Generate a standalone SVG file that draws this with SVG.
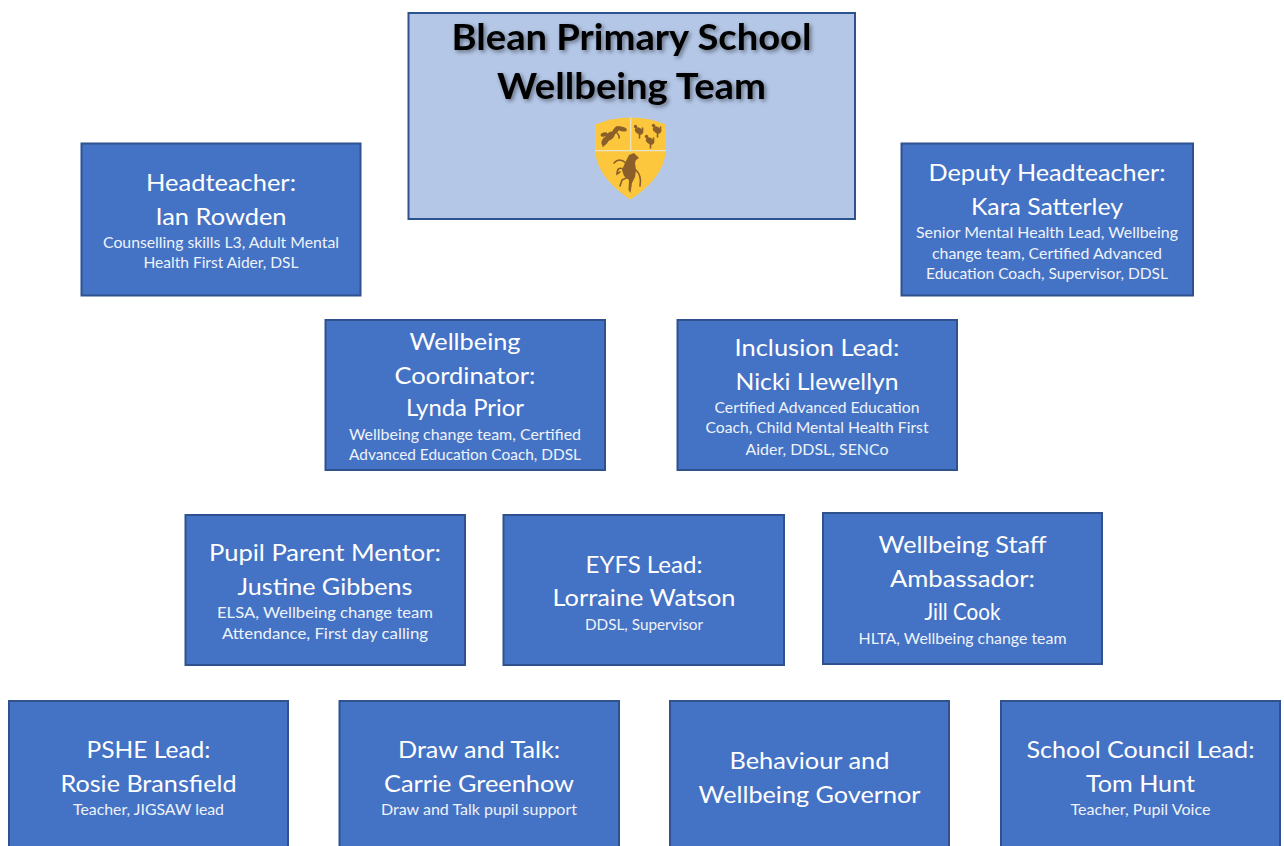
<svg xmlns="http://www.w3.org/2000/svg" width="1284" height="846" viewBox="0 0 1284 846">
<style>
.b{fill:#4472c4;stroke:#2f528f;stroke-width:2}
text{font-family:Lato,"Open Sans",sans-serif;text-anchor:middle;fill:#fff}
.h{font-size:24px}
.s{font-size:15px;fill:#eef2fa}
.t{font-size:37px;font-weight:700;fill:#000}
.br{fill:#8a5f2a}
.ln{fill:none;stroke:#8a5f2a;stroke-width:1.600;stroke-linecap:round}
</style>
<defs>
<filter id="sh" x="-5%" y="-15%" width="110%" height="135%"><feDropShadow dx="2" dy="2" stdDeviation="2" flood-color="#000" flood-opacity=".45"/></filter>
<filter id="soft"><feGaussianBlur stdDeviation="0.35"/></filter>
<g id="bird"><ellipse cx="0" cy="0" rx="4.500" ry="3" transform="rotate(35)" class="br"/><circle cx="-3.500" cy="-4.500" r="1.700" class="br"/><path class="ln" d="M-3 -4L-1.500 -1M0.500 2V7M3.500 1V-3"/></g>
</defs>
<rect width="1284" height="846" fill="#fff"/>
<g id="connectors"></g>
<g id="title">
<rect x="408.500" y="13" width="446.500" height="206" fill="#b4c7e7" stroke="#2f528f" stroke-width="2"/>
<text class="t" x="631.500" y="50" textLength="360" lengthAdjust="spacingAndGlyphs" filter="url(#sh)">Blean Primary School</text>
<text class="t" x="631.500" y="99" textLength="269" lengthAdjust="spacingAndGlyphs" filter="url(#sh)">Wellbeing Team</text>
<g id="crest" filter="url(#soft)">
<path d="M595 124.500Q612 117.500 630.500 117.500Q649 117.500 666 124.500L666 150Q664 178 630.500 199.500Q597 178 595 150Z" fill="#fcc73c"/>
<path d="M630.700 117.500V150.500M595 150.700H666" stroke="#e8e4c8" stroke-width="1.300" fill="none"/>
<g class="br">
<ellipse cx="605" cy="141" rx="5" ry="3" transform="rotate(-60 605 141)"/>
<ellipse cx="610" cy="136" rx="5.500" ry="3.500" transform="rotate(-40 610 136)"/>
<ellipse cx="604" cy="134.500" rx="3.500" ry="2" transform="rotate(-20 604 134.500)"/>
<ellipse cx="616" cy="130" rx="4.500" ry="2.500" transform="rotate(-50 616 130)"/>
<ellipse cx="622" cy="129" rx="5" ry="2.200" transform="rotate(15 622 129)"/>
</g>
<path class="ln" d="M603 146L615 133L620 127M617 133Q620 136 619 138" stroke-width="1.200"/>
<use href="#bird" x="639" y="131"/>
<use href="#bird" x="657" y="130"/>
<use href="#bird" x="650" y="141"/>
<path class="br" d="M629 155L634 153L639 158L636 160L635 163L636 170L635 177L632 183L630.500 193L628.500 190L629 180L624 176L622 170L625 163Z"/>
<path class="ln" d="M626 163Q619 157 614 163M624 169Q617 166 617 174L620 172M628 177L622 180L620 186M636 170Q642 176 640 186"/>
</g>
</g>
<g id="n-headteacher">
<rect class="b" x="81.500" y="143.500" width="279" height="152"/>
<text class="h" x="221" y="191" textLength="150" lengthAdjust="spacingAndGlyphs">Headteacher:</text>
<text class="h" x="221" y="225" textLength="131" lengthAdjust="spacingAndGlyphs">Ian Rowden</text>
<text class="s" x="221" y="248" textLength="236" lengthAdjust="spacingAndGlyphs">Counselling skills L3, Adult Mental</text>
<text class="s" x="221" y="268" textLength="155" lengthAdjust="spacingAndGlyphs">Health First Aider, DSL</text>
</g>
<g id="n-deputy">
<rect class="b" x="901.500" y="143.500" width="291.500" height="152"/>
<text class="h" x="1047" y="181" textLength="237" lengthAdjust="spacingAndGlyphs">Deputy Headteacher:</text>
<text class="h" x="1047" y="215" textLength="152" lengthAdjust="spacingAndGlyphs">Kara Satterley</text>
<text class="s" x="1047" y="238" textLength="262" lengthAdjust="spacingAndGlyphs">Senior Mental Health Lead, Wellbeing</text>
<text class="s" x="1047" y="259" textLength="230" lengthAdjust="spacingAndGlyphs">change team, Certified Advanced</text>
<text class="s" x="1047" y="279" textLength="242" lengthAdjust="spacingAndGlyphs">Education Coach, Supervisor, DDSL</text>
</g>
<g id="n-coordinator">
<rect class="b" x="325.500" y="320" width="279.500" height="150"/>
<text class="h" x="465" y="350" textLength="111" lengthAdjust="spacingAndGlyphs">Wellbeing</text>
<text class="h" x="465" y="384" textLength="141" lengthAdjust="spacingAndGlyphs">Coordinator:</text>
<text class="h" x="465" y="416" textLength="118" lengthAdjust="spacingAndGlyphs">Lynda Prior</text>
<text class="s" x="465" y="440" textLength="232" lengthAdjust="spacingAndGlyphs">Wellbeing change team, Certified</text>
<text class="s" x="465" y="460" textLength="232" lengthAdjust="spacingAndGlyphs">Advanced Education Coach, DDSL</text>
</g>
<g id="n-inclusion">
<rect class="b" x="677.500" y="320" width="279.500" height="150"/>
<text class="h" x="817" y="356" textLength="165" lengthAdjust="spacingAndGlyphs">Inclusion Lead:</text>
<text class="h" x="817" y="390" textLength="163" lengthAdjust="spacingAndGlyphs">Nicki Llewellyn</text>
<text class="s" x="817" y="413" textLength="205" lengthAdjust="spacingAndGlyphs">Certified Advanced Education</text>
<text class="s" x="817" y="433" textLength="223" lengthAdjust="spacingAndGlyphs">Coach, Child Mental Health First</text>
<text class="s" x="817" y="455" textLength="143" lengthAdjust="spacingAndGlyphs">Aider, DDSL, SENCo</text>
</g>
<g id="n-mentor">
<rect class="b" x="185.500" y="515" width="279.500" height="150"/>
<text class="h" x="325" y="561" textLength="232" lengthAdjust="spacingAndGlyphs">Pupil Parent Mentor:</text>
<text class="h" x="325" y="595" textLength="175" lengthAdjust="spacingAndGlyphs">Justine Gibbens</text>
<text class="s" x="325" y="618" textLength="216" lengthAdjust="spacingAndGlyphs">ELSA, Wellbeing change team</text>
<text class="s" x="325" y="639" textLength="206" lengthAdjust="spacingAndGlyphs">Attendance, First day calling</text>
</g>
<g id="n-eyfs">
<rect class="b" x="503.500" y="515" width="280.500" height="150"/>
<text class="h" x="644" y="573" textLength="117" lengthAdjust="spacingAndGlyphs">EYFS Lead:</text>
<text class="h" x="644" y="606" textLength="183" lengthAdjust="spacingAndGlyphs">Lorraine Watson</text>
<text class="s" x="644" y="630" textLength="118" lengthAdjust="spacingAndGlyphs">DDSL, Supervisor</text>
</g>
<g id="n-ambassador">
<rect class="b" x="823" y="513" width="279" height="151"/>
<text class="h" x="962.500" y="553" textLength="168" lengthAdjust="spacingAndGlyphs">Wellbeing Staff</text>
<text class="h" x="962.500" y="587" textLength="145" lengthAdjust="spacingAndGlyphs">Ambassador:</text>
<text class="h" x="962.500" y="620" textLength="76" lengthAdjust="spacingAndGlyphs">Jill Cook</text>
<text class="s" x="962.500" y="644" textLength="208" lengthAdjust="spacingAndGlyphs">HLTA, Wellbeing change team</text>
</g>
<g id="n-pshe">
<rect class="b" x="9" y="701" width="279" height="150"/>
<text class="h" x="148.500" y="758" textLength="124" lengthAdjust="spacingAndGlyphs">PSHE Lead:</text>
<text class="h" x="148.500" y="792" textLength="176" lengthAdjust="spacingAndGlyphs">Rosie Bransfield</text>
<text class="s" x="148.500" y="815" textLength="151" lengthAdjust="spacingAndGlyphs">Teacher, JIGSAW lead</text>
</g>
<g id="n-draw">
<rect class="b" x="339.500" y="701" width="279.500" height="150"/>
<text class="h" x="479" y="758" textLength="162" lengthAdjust="spacingAndGlyphs">Draw and Talk:</text>
<text class="h" x="479" y="792" textLength="190" lengthAdjust="spacingAndGlyphs">Carrie Greenhow</text>
<text class="s" x="479" y="815" textLength="196" lengthAdjust="spacingAndGlyphs">Draw and Talk pupil support</text>
</g>
<g id="n-governor">
<rect class="b" x="670" y="701" width="279" height="150"/>
<text class="h" x="809.500" y="769" textLength="160" lengthAdjust="spacingAndGlyphs">Behaviour and</text>
<text class="h" x="809.500" y="803" textLength="222" lengthAdjust="spacingAndGlyphs">Wellbeing Governor</text>
</g>
<g id="n-council">
<rect class="b" x="1001" y="701" width="279" height="150"/>
<text class="h" x="1140.500" y="758" textLength="228" lengthAdjust="spacingAndGlyphs">School Council Lead:</text>
<text class="h" x="1140.500" y="792" textLength="109" lengthAdjust="spacingAndGlyphs">Tom Hunt</text>
<text class="s" x="1140.500" y="815" textLength="140" lengthAdjust="spacingAndGlyphs">Teacher, Pupil Voice</text>
</g>
</svg>
